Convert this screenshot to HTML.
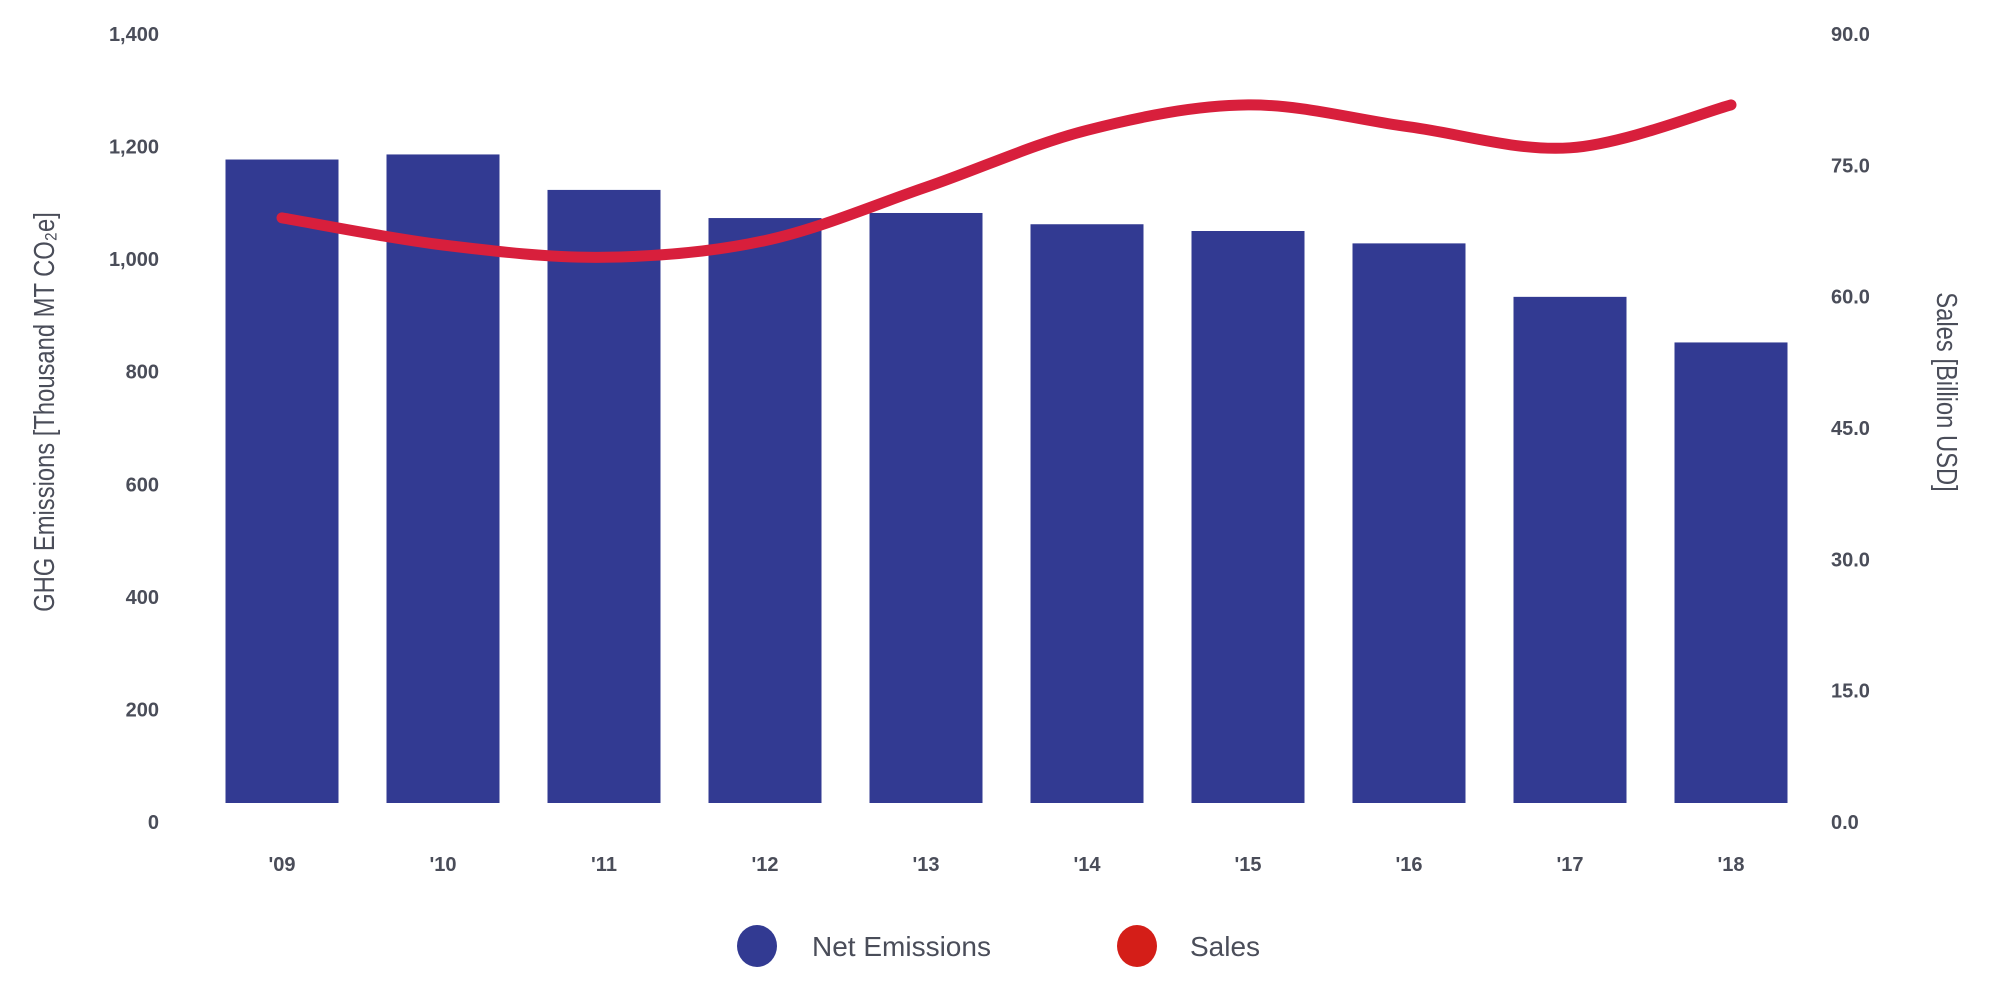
<!DOCTYPE html>
<html><head><meta charset="utf-8"><style>
html,body{margin:0;padding:0;background:#fff;width:1990px;height:987px;overflow:hidden}
svg{display:block;font-family:"Liberation Sans",sans-serif}
.tick{font-size:20px;font-weight:bold;fill:#4a4d59}
</style></head><body>
<svg id="chart" width="1990" height="987" viewBox="0 0 1990 987" xmlns="http://www.w3.org/2000/svg">
<g id="bars"></g>
<path id="salesLine" fill="none" stroke="#d81f3c" stroke-width="11" stroke-linecap="round"/>
<g id="leftTicks"></g>
<g id="rightTicks"></g>
<g id="xTicks"></g>
<text transform="translate(54,412) rotate(-90) scale(0.82,1)" text-anchor="middle" font-size="29" fill="#4a4d59">GHG Emissions [Thousand MT CO₂e]</text>
<text transform="translate(1937,392) rotate(90) scale(0.82,1)" text-anchor="middle" font-size="29" fill="#4a4d59">Sales [Billion USD]</text>
<g>
<g>
<ellipse cx="757" cy="946" rx="20" ry="21" fill="#323a92"/>
<text x="812" y="956" font-size="28" fill="#4a4d59">Net Emissions</text></g>
<g>
<ellipse cx="1137" cy="946" rx="20" ry="21" fill="#d41e18"/>
<text x="1190" y="956" font-size="28" fill="#4a4d59">Sales</text></g>
</g>
</svg>
<script>
const categories=["'09","'10","'11","'12","'13","'14","'15","'16","'17","'18"];
const emissions=[1177,1186,1123,1073,1082,1062,1050,1028,933,852];
const sales=[69.0,65.9,64.5,66.4,72.5,79.0,81.9,79.4,77.0,81.9];
const leftTickLabels=["0","200","400","600","800","1,000","1,200","1,400"];
const leftTickValues=[0,200,400,600,800,1000,1200,1400];
const rightTickLabels=["0.0","15.0","30.0","45.0","60.0","75.0","90.0"];
const rightTickValues=[0,15,30,45,60,75,90];

const NS="http://www.w3.org/2000/svg";
const y0=822,yTop=34,barBase=803;
const yL=v=>y0-(y0-yTop)*v/1400;
const yR=v=>y0-(y0-yTop)*v/90;
const step=161,first=282,bw=113;
const xC=i=>first+i*step;
function mk(t,a,p){const e=document.createElementNS(NS,t);for(const k in a)e.setAttribute(k,a[k]);p.appendChild(e);return e;}
const bars=document.getElementById('bars');
emissions.forEach((v,i)=>{
 const r=mk('rect',{x:xC(i)-bw/2,y:yL(v),width:bw,height:barBase-yL(v),fill:'#323a92'},bars);
 
 
});
// smooth line (catmull-rom)
const pts=sales.map((v,i)=>[xC(i),yR(v)]);
let d='M'+pts[0][0]+','+pts[0][1];
for(let i=0;i<pts.length-1;i++){
 const p0=pts[Math.max(0,i-1)],p1=pts[i],p2=pts[i+1],p3=pts[Math.min(pts.length-1,i+2)];
 const c1=[p1[0]+(p2[0]-p0[0])/6,p1[1]+(p2[1]-p0[1])/6];
 const c2=[p2[0]-(p3[0]-p1[0])/6,p2[1]-(p3[1]-p1[1])/6];
 d+=' C'+c1+' '+c2+' '+p2;
}
document.getElementById('salesLine').setAttribute('d',d);
const lt=document.getElementById('leftTicks');
leftTickValues.forEach((v,i)=>{
 const t=mk('text',{x:159,y:yL(v)+7,'text-anchor':'end',class:'tick'},lt);t.textContent=leftTickLabels[i];
 
 
});
const rt=document.getElementById('rightTicks');
rightTickValues.forEach((v,i)=>{
 const t=mk('text',{x:1831,y:yR(v)+7,'text-anchor':'start',class:'tick'},rt);t.textContent=rightTickLabels[i];
 
 
});
const xt=document.getElementById('xTicks');
categories.forEach((c,i)=>{
 const t=mk('text',{x:xC(i),y:871,'text-anchor':'middle',class:'tick'},xt);t.textContent=c;
 
 
});
</script>
</body></html>
